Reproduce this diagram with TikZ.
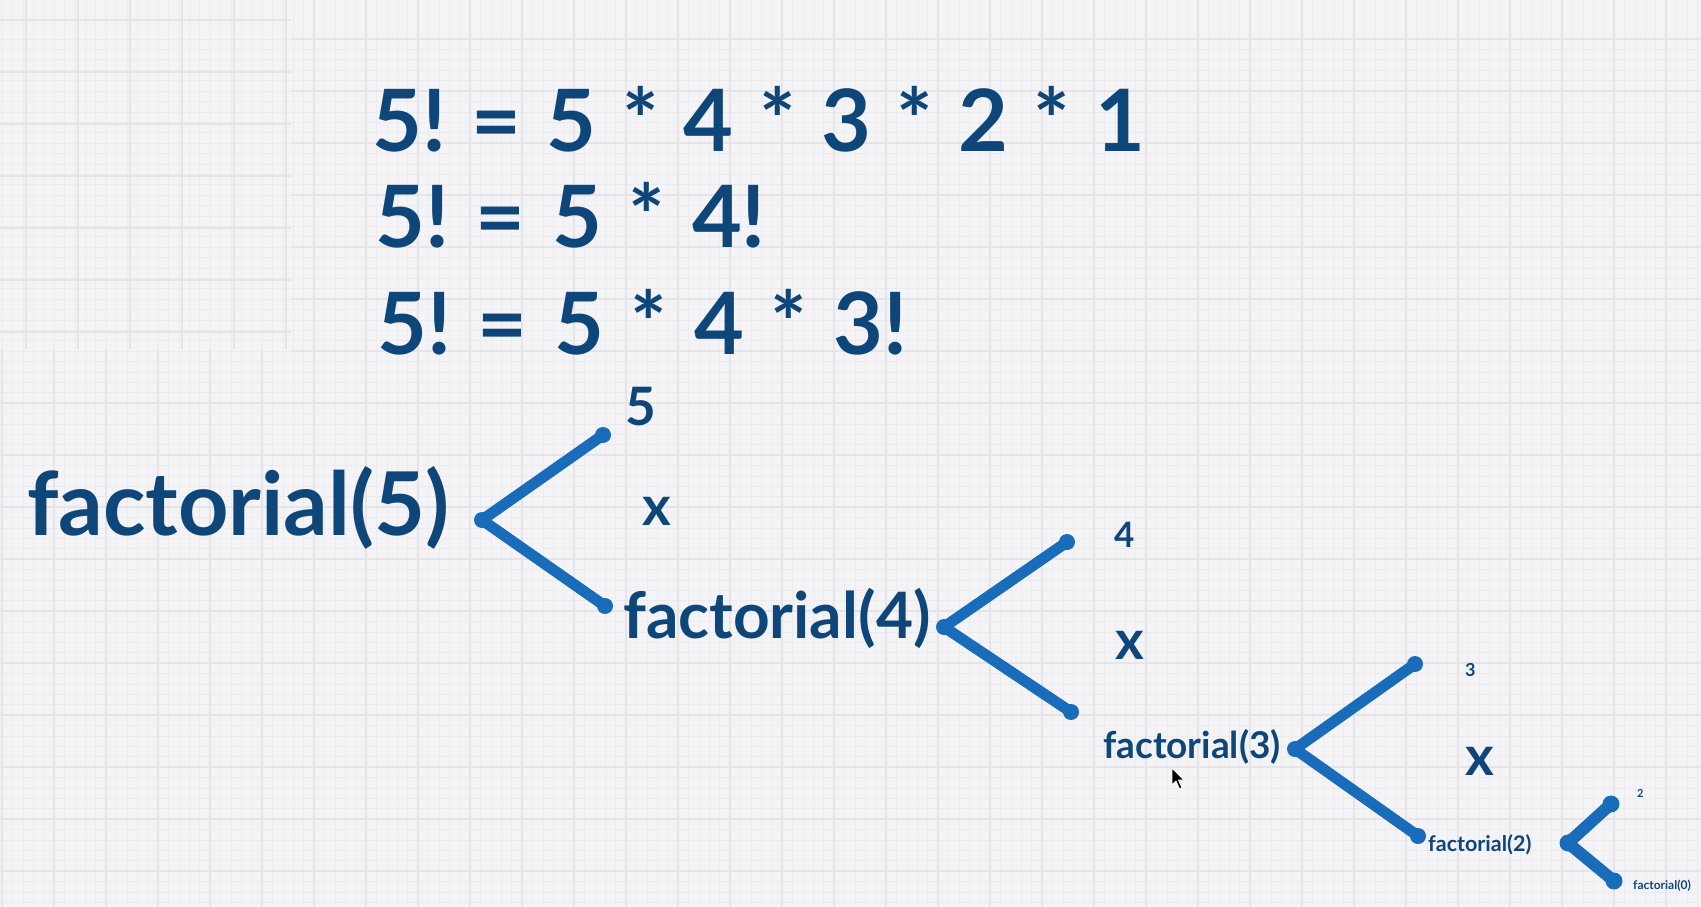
\documentclass[tikz,border=0pt]{standalone}
\usepackage{fontspec}
\newfontfamily\lato{Lato}
\newcommand\myfs[1]{\fontsize{#1}{#1}\selectfont}
\newcommand\gp{\hspace{0.31em}}
\newcommand\gq{\hspace{0.295em}}
\definecolor{navy}{RGB}{14,70,122}
\definecolor{brblue}{RGB}{24,108,186}
\definecolor{bg}{RGB}{244,244,246}
\definecolor{gridmaj}{RGB}{228,228,233}
\definecolor{gridmin}{RGB}{236,236,240}
\tikzset{
  txt/.style={inner sep=0pt, anchor=base west, text=navy, font=\lato\bfseries},
  br/.style={draw=brblue, line width=11pt, line cap=round, line join=round},
  blob/.style={fill=brblue, draw=none},
}
\begin{document}
\begin{tikzpicture}[x=1pt,y=-1pt]
\useasboundingbox (0,0) rectangle (1701,907);
\fill[bg] (0,0) rectangle (1701,907);
% minor grid
\foreach \i in {0,...,170} {\draw[gridmin, line width=0.6pt] (\i*10.4+2,0) -- (\i*10.4+2,907);}
\foreach \j in {0,...,90} {\draw[gridmin, line width=0.6pt] (0,\j*10.4+39) -- (1701,\j*10.4+39);}
% major grid
\foreach \i in {0,...,33} {\draw[gridmaj, line width=1.8pt] (\i*52+2,349) -- (\i*52+2,907);}
\foreach \i in {6,...,33} {\draw[gridmaj, line width=1.8pt] (\i*52+2,0) -- (\i*52+2,349);}
\foreach \j in {0,...,17} {\draw[gridmaj, line width=1.8pt] (291,\j*52+39) -- (1701,\j*52+39);}
\foreach \j in {7,...,17} {\draw[gridmaj, line width=1.8pt] (0,\j*52+39) -- (291,\j*52+39);}
\foreach \i in {0,...,5} {\draw[gridmaj, line width=1.8pt] (\i*52+26,0) -- (\i*52+26,349);}
\foreach \j in {0,...,6} {\draw[gridmaj, line width=1.8pt] (0,\j*52+20) -- (291,\j*52+20);}

% equations
\node[txt, font=\lato\bfseries\myfs{86}] (eq1) at (372,151) {5!\gq=\gq5\gq*\gq4\gq*\gq3\gq*\gq2\gq*\gq1};
\node[txt, font=\lato\bfseries\myfs{86}] (eq2) at (375,247) {5!\gp=\gp5\gp*\gp4!};
\node[txt, font=\lato\bfseries\myfs{86}] (eq3) at (377,354) {5!\gp=\gp5\gp*\gp4\gp*\gp3!};

% level 1
\node[txt, font=\lato\bfseries\myfs{88}] (f5) at (27,535) {factorial(5)};
\coordinate (v1) at (482,520);
\coordinate (u1) at (603,435);
\coordinate (l1) at (605,606);
\draw[br] (u1) -- (v1) -- (l1);
\fill[blob] (u1) circle (8) (l1) circle (8) (v1) circle (8);
\node[txt, font=\lato\bfseries\myfs{53}] (n5) at (625,425) {5};
\node[txt, font=\lato\bfseries\myfs{55}] (x1) at (642,525) {x};

% level 2
\node[txt, font=\lato\bfseries\myfs{64}] (f4) at (623,638) {factorial(4)};
\coordinate (v2) at (944,627);
\coordinate (u2) at (1067,542);
\coordinate (l2) at (1071,712);
\draw[br] (u2) -- (v2) -- (l2);
\fill[blob] (u2) circle (8) (l2) circle (8) (v2) circle (8);
\node[txt, font=\lato\bfseries\myfs{35}] (n4) at (1114,547) {4};
\node[txt, font=\lato\bfseries\myfs{55}] (x2) at (1115,659) {x};

% level 3
\node[txt, font=\lato\bfseries\myfs{37}] (f3) at (1103,758) {factorial(3)};
\coordinate (v3) at (1295,749);
\coordinate (u3) at (1415,664);
\coordinate (l3) at (1418,836);
\draw[br] (u3) -- (v3) -- (l3);
\fill[blob] (u3) circle (8) (l3) circle (8) (v3) circle (8);
\node[txt, font=\lato\bfseries\myfs{18}] (n3) at (1465,676) {3};
\node[txt, font=\lato\bfseries\myfs{55}] (x3) at (1465,775) {x};

% level 4
\node[txt, font=\lato\bfseries\myfs{21.5}] (f2) at (1428,851) {factorial(2)};
\coordinate (v4) at (1568,843);
\coordinate (u4) at (1611,804);
\coordinate (l4) at (1614,881);
\draw[br, line width=12pt] (u4) -- (v4) -- (l4);
\fill[blob] (u4) circle (8.5) (l4) circle (8.5) (v4) circle (8.5);
\node[txt, font=\lato\bfseries\myfs{11}] (n2) at (1637,797) {2};
\node[txt, font=\lato\bfseries\myfs{12}] (f0) at (1633,889) {factorial(0)};

% mouse pointer
\filldraw[fill=black, draw=white, line width=0.8pt, line join=round]
  (1172,768) -- (1172,785) -- (1176,781) -- (1179.5,789) -- (1182,788) -- (1178.5,780) -- (1184,780) -- cycle;
\end{tikzpicture}
\end{document}
